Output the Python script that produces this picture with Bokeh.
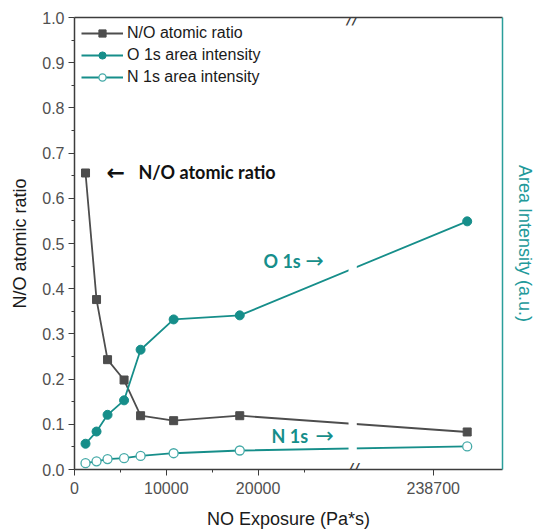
import math
from bokeh.plotting import figure
from bokeh.models import (Range1d, LinearAxis, FixedTicker, Legend, LegendItem, Label,
                          BoxAnnotation, PrintfTickFormatter, ColumnDataSource)
from bokeh.embed import file_html
from bokeh.resources import INLINE

# ---- data ----
exposure = [1200, 2400, 3600, 5400, 7200, 10800, 18000, 242400]
no_ratio = [0.656, 0.376, 0.243, 0.198, 0.119, 0.108, 0.119, 0.083]
o1s_area = [0.057, 0.084, 0.121, 0.153, 0.265, 0.332, 0.341, 0.549]
n1s_area = [0.014, 0.018, 0.023, 0.025, 0.030, 0.036, 0.042, 0.051]
x_tick_values = [0, 10000, 20000, 238700]
x_tick_labels = ["0", "10000", "20000", "238700"]
x_minor_values = [5000, 15000, 25000]
y_tick_values = [round(i * 0.1, 1) for i in range(11)]
y_minor_values = [round(0.05 + i * 0.1, 2) for i in range(10)]

# broken x axis: [0, BREAK_START] then resumes at BREAK_END
BREAK_START = 30300
BREAK_END = 229925
X_END = 246245
SHIFT = BREAK_END - BREAK_START


def to_disp(x):
    return x if x <= BREAK_START else x - SHIFT


GRAY = "#4d4d4d"
TEAL = "#168e8a"
TEAL_LIGHT = "#45aaa8"
AXIS = "#3c3c3c"
TICKTXT = "#505050"

src = ColumnDataSource(dict(x=[to_disp(v) for v in exposure], ratio=no_ratio,
                            o1s=o1s_area, n1s=n1s_area))

p = figure(frame_width=428, frame_height=452,
           x_range=Range1d(0, to_disp(X_END)), y_range=Range1d(0, 1),
           output_backend="svg", toolbar_location=None,
           min_border_left=74, min_border_top=17, min_border_right=30, min_border_bottom=58,
           background_fill_color="white", border_fill_color="white")
p.outline_line_color = None
p.xgrid.visible = False
p.ygrid.visible = False

# left axis
ya = p.yaxis[0]
ya.ticker = FixedTicker(ticks=y_tick_values, minor_ticks=y_minor_values)
ya.formatter = PrintfTickFormatter(format="%.1f")
ya.axis_label = "N/O atomic ratio"
ya.axis_label_text_font = "Liberation Sans"
ya.axis_label_text_font_size = "18px"
ya.axis_label_text_font_style = "normal"
ya.axis_label_text_color = "#1a1a1a"
ya.axis_label_standoff = 9
ya.major_label_text_font = "Liberation Sans"
ya.major_label_text_font_size = "16px"
ya.major_label_text_color = TICKTXT
ya.major_label_standoff = 4
ya.axis_line_color = AXIS
ya.axis_line_width = 1.5
ya.major_tick_line_color = AXIS
ya.minor_tick_line_color = AXIS
ya.major_tick_out = 6
ya.major_tick_in = 0
ya.minor_tick_out = 3
ya.minor_tick_in = 0

# bottom axis
xa = p.xaxis[0]
disp_ticks = [to_disp(v) for v in x_tick_values]
xa.ticker = FixedTicker(ticks=disp_ticks, minor_ticks=[to_disp(v) for v in x_minor_values])
xa.major_label_overrides = {t: lab for t, lab in zip(disp_ticks, x_tick_labels)}
xa.axis_label = "NO Exposure (Pa*s)"
xa.axis_label_text_font = "Liberation Sans"
xa.axis_label_text_font_size = "18px"
xa.axis_label_text_font_style = "normal"
xa.axis_label_text_color = "#1a1a1a"
xa.axis_label_standoff = 12
xa.major_label_text_font = "Liberation Sans"
xa.major_label_text_font_size = "16px"
xa.major_label_text_color = TICKTXT
xa.major_label_standoff = 6
xa.axis_line_color = AXIS
xa.axis_line_width = 1.5
xa.major_tick_line_color = AXIS
xa.minor_tick_line_color = AXIS
xa.major_tick_out = 6
xa.major_tick_in = 0
xa.minor_tick_out = 3
xa.minor_tick_in = 0

# top axis line (no ticks)
top = LinearAxis(ticker=FixedTicker(ticks=[]), axis_line_color=AXIS, axis_line_width=1.5,
                 major_tick_line_color=None, minor_tick_line_color=None,
                 major_label_text_font_size="0px")
p.add_layout(top, "above")

# right axis (teal, label only)
right = LinearAxis(ticker=FixedTicker(ticks=[]), axis_line_color="#2a9e9b", axis_line_width=1.5,
                   major_tick_line_color=None, minor_tick_line_color=None,
                   major_label_text_font_size="0px",
                   axis_label="Area Intensity (a.u.)", axis_label_standoff=12,
                   axis_label_text_font="Liberation Sans", axis_label_text_font_size="18px",
                   axis_label_text_font_style="normal", axis_label_text_color="#22999a")
p.add_layout(right, "right")

# series
l1 = p.line("x", "ratio", source=src, line_color=GRAY, line_width=1.8)
s1 = p.scatter("x", "ratio", source=src, marker="square", size=8,
               fill_color=GRAY, line_color=GRAY)
l2 = p.line("x", "o1s", source=src, line_color=TEAL, line_width=1.8)
s2 = p.scatter("x", "o1s", source=src, marker="circle", size=9,
               fill_color=TEAL, line_color=TEAL)
l3 = p.line("x", "n1s", source=src, line_color=TEAL, line_width=1.8)
s3 = p.scatter("x", "n1s", source=src, marker="circle", size=9,
               fill_color="white", line_color=TEAL_LIGHT, line_width=1.3)

# gap in the lines at the break
p.add_layout(BoxAnnotation(left=BREAK_START - 450, right=BREAK_START + 450,
                           bottom=0.008, top=0.992, fill_color="white", fill_alpha=1.0,
                           line_color=None))

# break marks on top and bottom axes
for yy in (0, 1):
    p.add_layout(Label(x=BREAK_START, y=yy, text="//", text_align="center",
                       text_baseline="middle", text_font="DejaVu Sans",
                       text_font_size="17px", text_font_style="italic", text_color=AXIS))

legend = Legend(items=[LegendItem(label="N/O atomic ratio", renderers=[l1, s1]),
                       LegendItem(label="O 1s area intensity", renderers=[l2, s2]),
                       LegendItem(label="N 1s area intensity", renderers=[l3, s3])],
                location="top_left", border_line_color=None, background_fill_alpha=0,
                margin=7, padding=0, spacing=4, glyph_width=42, glyph_height=18,
                label_height=18, label_standoff=4,
                label_text_font="Liberation Sans", label_text_font_size="16px",
                label_text_color="#1a1a1a")
p.add_layout(legend)


def px_to_x(px):
    return (px - 74) / 428 * to_disp(X_END)


def py_to_y(py):
    return (469 - py) / 452


ANN_FONT = "Lato"
p.add_layout(Label(x=px_to_x(106), y=py_to_y(172), text="\u2190", text_align="left",
                   text_baseline="middle", text_font="DejaVu Sans", text_font_size="22px",
                   text_font_style="bold", text_color="#111111"))
p.add_layout(Label(x=px_to_x(138), y=py_to_y(171), text="N/O atomic ratio", text_align="left",
                   text_baseline="middle", text_font=ANN_FONT, text_font_size="18px",
                   text_font_style="bold", text_color="#111111"))
p.add_layout(Label(x=px_to_x(263), y=py_to_y(260), text="O 1s", text_align="left",
                   text_baseline="middle", text_font=ANN_FONT, text_font_size="18px",
                   text_font_style="bold", text_color=TEAL))
p.add_layout(Label(x=px_to_x(305), y=py_to_y(260), text="\u2192", text_align="left",
                   text_baseline="middle", text_font="DejaVu Sans", text_font_size="22px",
                   text_color=TEAL))
p.add_layout(Label(x=px_to_x(271), y=py_to_y(435), text="N 1s", text_align="left",
                   text_baseline="middle", text_font=ANN_FONT, text_font_size="18px",
                   text_font_style="bold", text_color=TEAL))
p.add_layout(Label(x=px_to_x(315), y=py_to_y(435), text="\u2192", text_align="left",
                   text_baseline="middle", text_font="DejaVu Sans", text_font_size="22px",
                   text_color=TEAL))

open("out.html", "w").write(file_html(p, INLINE))
